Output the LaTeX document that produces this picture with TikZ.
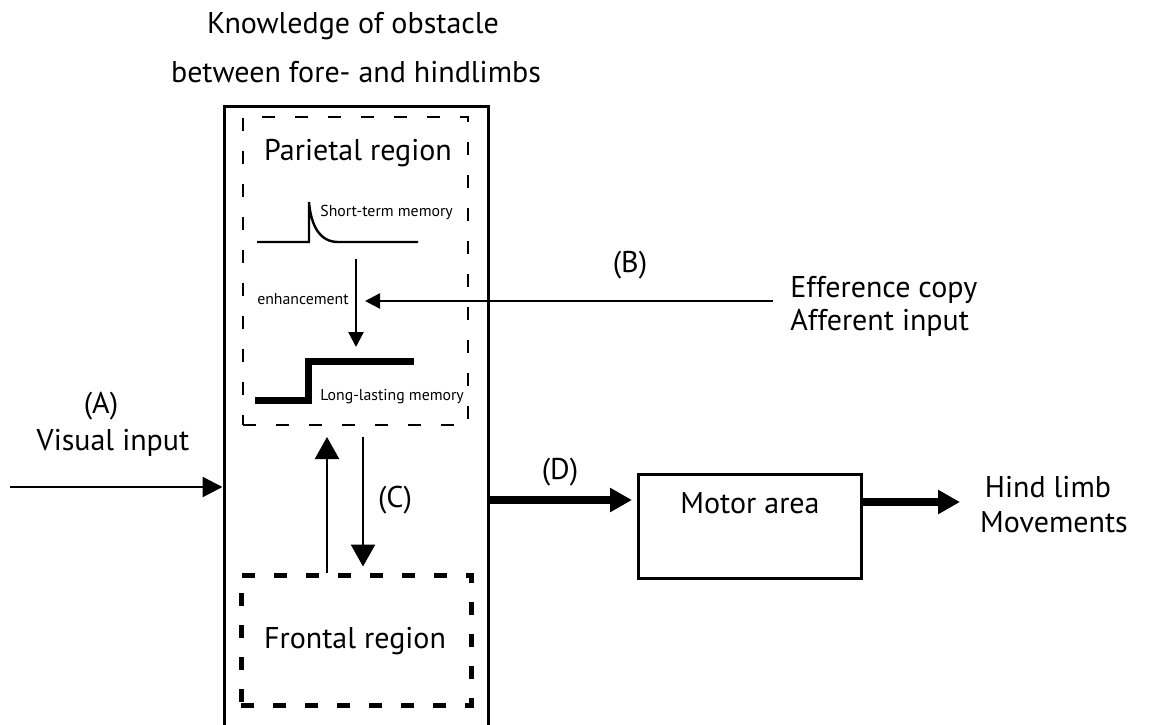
\documentclass[tikz,border=0pt]{standalone}
\usepackage{fontspec}
\setmainfont{PT Sans}
\usetikzlibrary{arrows.meta}

\begin{document}
\begin{tikzpicture}[x=0.5pt,y=-0.5pt]
\tikzstyle{every node}+=[inner sep=0pt, font=\fontsize{15}{18}\selectfont]
\tikzstyle{small}=[font=\fontsize{7.9}{10}\selectfont]
\tikzstyle{arrowthin}=[line width=1.2pt, -{Triangle[length=7.5pt,width=7.5pt]}]
\tikzstyle{arrowin}=[line width=1.2pt, -{Triangle[length=10pt,width=10pt]}]
\tikzstyle{arrowmid}=[line width=1.2pt, -{Triangle[length=11pt,width=12pt]}]
\tikzstyle{arrowthick}=[line width=4pt, -{Triangle[length=11pt,width=11.5pt]}]
\useasboundingbox (0,0) rectangle (1153,724);
\clip (0,0) rectangle (1153,724);
\node (title1) [anchor=base] at (353,33) {Knowledge of obstacle};
\node (title2) [anchor=base] at (356,82) {between fore- and hindlimbs};
\node (cortex) [draw, line width=1.5pt, minimum width=132pt, minimum height=332pt] at (356,438) {};
\node (parietal) [draw, line width=0.75pt, dash pattern=on 6.5pt off 10pt, minimum width=112.5pt, minimum height=154pt] at (355.5,271) {};
\node (frontal) [draw, line width=2.5pt, dash pattern=on 6.5pt off 9.5pt, minimum width=115pt, minimum height=65pt] at (356,640) {};
\node (motor) [draw, line width=1.5pt, minimum width=111.5pt, minimum height=52pt] at (749.5,526) {};
\node (parlabel) [anchor=base] at (358,160) {Parietal region};
\node (stm) [small, anchor=base west] at (320,216) {Short-term memory};
\node (enh) [small, anchor=base] at (303,304) {enhancement};
\node (llm) [small, anchor=base west] at (320,400) {Long-lasting memory};
\node (frolabel) [anchor=base] at (355,648) {Frontal region};
\node (motlabel) [anchor=base] at (750,513) {Motor area};
\node (alabel) [anchor=base] at (101,413) {(A)};
\node (vislabel) [anchor=base] at (113,450) {Visual input};
\node (blabel) [anchor=base] at (630,272) {(B)};
\node (eff) [anchor=base west] at (790,297) {Efference copy};
\node (aff) [anchor=base west] at (790,330) {Afferent input};
\node (clabel) [anchor=base] at (395,507) {(C)};
\node (dlabel) [anchor=base] at (560,479) {(D)};
\node (hind) [anchor=base] at (1048,497) {Hind limb};
\node (mov) [anchor=base] at (1054,532) {Movements};
\coordinate (visin) at (10,487);
\coordinate (bin) at (773,301);
\coordinate (benh) at (365,301);
\coordinate (stmout) at (356,259);
\coordinate (llmin) at (356,347);
\coordinate (cup) at (327,437);
\coordinate (cdown) at (363,437);
\coordinate (dend) at (632,500);
\coordinate (hindend) at (960,502);
\draw [arrowin] (visin) -- (visin -| cortex.west);
\draw [arrowthin] (bin) -- (benh);
\draw [arrowthin] (stmout) -- (llmin);
\draw [arrowmid] (frontal.north -| cup) -- (cup);
\draw [arrowmid, shorten >=3pt] (cdown) -- (cdown |- frontal.north);
\draw [arrowthick] (dend -| cortex.east) -- (dend);
\draw [arrowthick] (motor.east |- hindend) -- (hindend);
\draw [line width=1.2pt] (257,242) -- (309,242) -- (309,202) .. controls (311,226) and (320,242) .. (338,242) -- (418,242);
\draw [line width=3.5pt] (255,400) -- (308,400) -- (308,361) -- (414,361);
\end{tikzpicture}
\end{document}
